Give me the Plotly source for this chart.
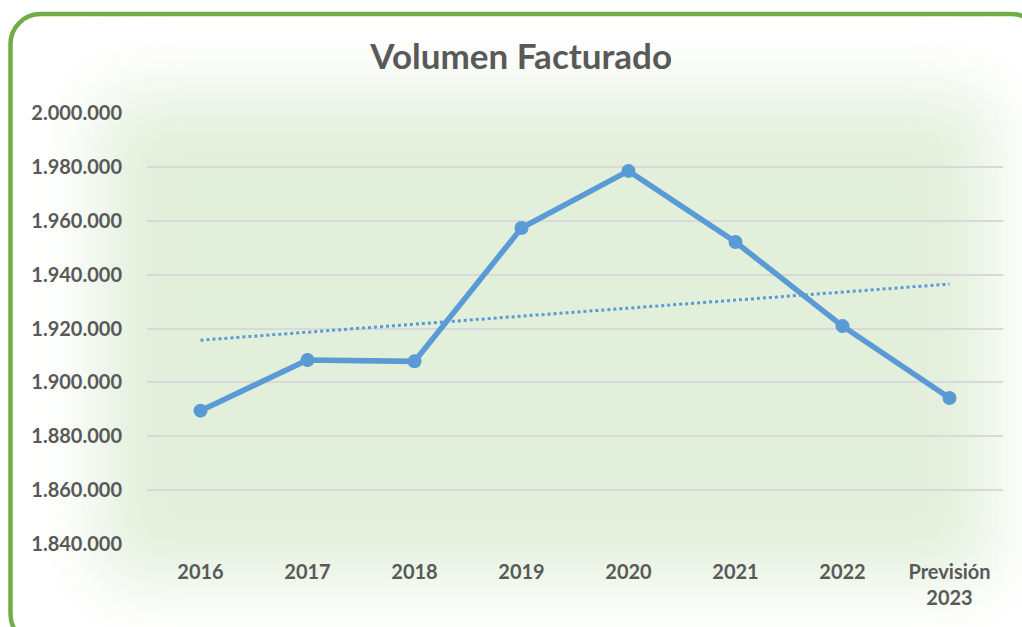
import base64
import numpy as np
import plotly.graph_objects as go

# ---- data ----
categories = ["2016", "2017", "2018", "2019", "2020", "2021", "2022", "Previsión<br>2023"]
volumen = [1889500, 1908300, 1907800, 1957300, 1978500, 1952100, 1920900, 1894200]
y_ticks = [1840000, 1860000, 1880000, 1900000, 1920000, 1940000, 1960000, 1980000, 2000000]
y_tick_labels = ["1.840.000", "1.860.000", "1.880.000", "1.900.000", "1.920.000",
                 "1.940.000", "1.960.000", "1.980.000", "2.000.000"]
title_text = "Volumen Facturado"

# linear trend line (as Excel's linear trendline)
idx = np.arange(len(volumen))
slope, intercept = np.polyfit(idx, volumen, 1)
trend = list(slope * idx + intercept)

W, H = 1022, 627
L, R, T, B = 147, 19, 113, 83
PW, PH = W - L - R, H - T - B

FONT = "Lato, 'Open Sans', sans-serif"
TXT = "#595959"
LINE = "#5B9BD5"

svg = f'''<svg xmlns="http://www.w3.org/2000/svg" width="{W}" height="{H}" viewBox="0 0 {W} {H}">
<defs><filter id="b" x="-30%" y="-30%" width="160%" height="160%"><feGaussianBlur stdDeviation="35"/></filter></defs>
<rect width="{W}" height="{H}" fill="#ffffff"/>
<rect x="100" y="95" width="890" height="485" fill="#E2EFDA" filter="url(#b)"/>
<rect x="10.5" y="14" width="1031" height="630" rx="30" ry="30" fill="none" stroke="#70AD47" stroke-width="4.5"/>
</svg>'''
src = "data:image/svg+xml;base64," + base64.b64encode(svg.encode()).decode()

fig = go.Figure()
fig.add_trace(go.Scatter(
    x=categories, y=trend, mode="lines",
    line=dict(color=LINE, width=3, dash="dot"),
    hoverinfo="skip", showlegend=False,
))
fig.add_trace(go.Scatter(
    x=categories, y=volumen, mode="lines+markers",
    line=dict(color=LINE, width=5.5),
    marker=dict(color=LINE, size=14),
    showlegend=False,
))

fig.update_layout(
    width=W, height=H,
    margin=dict(l=L, r=R, t=T, b=B),
    paper_bgcolor="white",
    plot_bgcolor="rgba(0,0,0,0)",
    title=dict(text=f"<b>{title_text}</b>", x=0.51, xanchor="center", y=1 - 57 / H, yanchor="middle",
               font=dict(family=FONT, size=35, color=TXT)),
    font=dict(family=FONT, color=TXT),
    images=[dict(source=src, xref="paper", yref="paper",
                 x=-L / PW, y=1 + T / PH, sizex=W / PW, sizey=H / PH,
                 xanchor="left", yanchor="top", sizing="stretch", layer="below")],
)
fig.update_xaxes(
    type="category", categoryorder="array", categoryarray=categories,
    range=[-0.5, len(categories) - 0.5],
    showgrid=False, zeroline=False, showline=False,
    ticks="", ticklabelstandoff=14,
    tickvals=categories, ticktext=[f"<b>{c}</b>" for c in categories],
    tickfont=dict(family=FONT, size=20, color=TXT),
)
fig.update_yaxes(
    range=[1840000, 2000000],
    tickvals=y_ticks, ticktext=[f"<b>{t}</b>" for t in y_tick_labels],
    showgrid=True, gridcolor="#D9D9D9", gridwidth=1.5,
    zeroline=False, showline=False, ticks="", ticklabelstandoff=24,
    tickfont=dict(family=FONT, size=20, color=TXT),
)

fig.write_html("out.html", config={"displayModeBar": False},
               post_script="document.body.style.margin='0';document.body.style.overflow='hidden';")
